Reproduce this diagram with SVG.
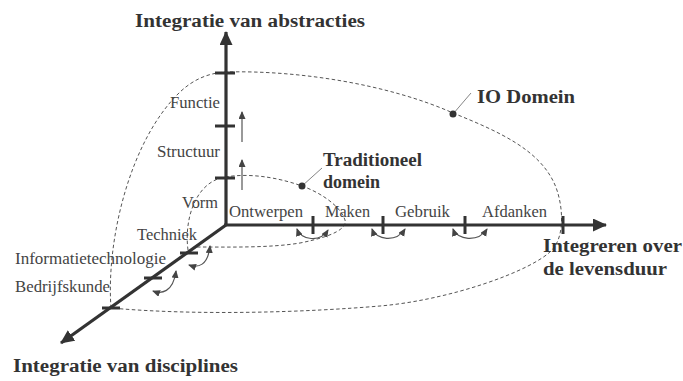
<svg xmlns="http://www.w3.org/2000/svg" width="683" height="381" viewBox="0 0 683 381">
  <style>
    .axis { stroke: #333; stroke-width: 3.2; fill: none; }
    .tick { stroke: #333; stroke-width: 3; }
    .dash { stroke: #555; stroke-width: 1; fill: none; stroke-dasharray: 3.5 2.5; }
    .thin { stroke: #555; stroke-width: 1.2; fill: none; }
    .lead { stroke: #777; stroke-width: 0.9; }
    .lbl { font-family: "Liberation Serif", "Times New Roman", serif; font-size: 16px; fill: #444; }
    .ttl { font-family: "Liberation Serif", "Times New Roman", serif; font-size: 18.5px; font-weight: bold; fill: #333; }
  </style>
  <defs>
    <marker id="axisHead" markerUnits="userSpaceOnUse" markerWidth="15" markerHeight="14" refX="13" refY="6.5" orient="auto">
      <path d="M0,0 L14,6.5 L0,13 z" fill="#333"/>
    </marker>
    <marker id="smallHead" markerUnits="userSpaceOnUse" markerWidth="9" markerHeight="8" refX="7" refY="3.5" orient="auto-start-reverse">
      <path d="M0,0 L8,3.5 L0,7 z" fill="#444"/>
    </marker>
  </defs>
  <rect width="683" height="381" fill="#fff"/>

  <!-- domain outlines -->
  <g id="io-domein-outline">
    <path class="dash" d="M111,308 C106,240 130,140 180,92 C195,78 210,73 226,72 C300,70 390,85 453,113 C500,132 540,150 555,185 C562.5,202.5 566,235 552,250 C532,271 450,300 380,306 C310,312 200,316 111,308"/>
    <line class="lead" x1="453" y1="114" x2="471" y2="93"/>
    <circle cx="453" cy="114" r="3.5" fill="#333"/>
  </g>
  <g id="traditioneel-outline">
    <path class="dash" d="M188,250 C184,220 195,182 225,177 C255,172 285,180 302,186 C319,192 340,205 345,220 C347,228 335,236 300,243 C270,248 230,247 195,247"/>
    <line class="lead" x1="302" y1="186" x2="322" y2="168"/>
    <circle cx="302" cy="186" r="3.5" fill="#333"/>
  </g>

  <!-- axes and scale marks -->
  <g id="connectors">
    <line class="axis" x1="226" y1="226" x2="226" y2="32" marker-end="url(#axisHead)"/>
    <line class="axis" x1="224" y1="225" x2="606" y2="225" marker-end="url(#axisHead)"/>
    <line class="axis" x1="226" y1="225" x2="61" y2="343" marker-end="url(#axisHead)"/>

    <line class="tick" x1="215" y1="73" x2="235" y2="73"/>
    <line class="tick" x1="215" y1="126" x2="235" y2="126"/>
    <line class="tick" x1="215" y1="178" x2="235" y2="178"/>

    <line class="tick" x1="313" y1="216" x2="313" y2="234"/>
    <line class="tick" x1="383" y1="216" x2="383" y2="234"/>
    <line class="tick" x1="465" y1="216" x2="465" y2="234"/>
    <line class="tick" x1="563" y1="216" x2="563" y2="234"/>

    <line class="tick" x1="180" y1="253" x2="198" y2="253"/>
    <line class="tick" x1="144" y1="278" x2="162" y2="278"/>
    <line class="tick" x1="102" y1="308" x2="120" y2="308"/>

    <!-- upward steps along abstraction axis -->
    <line class="thin" x1="242" y1="142" x2="242" y2="112" marker-end="url(#smallHead)"/>
    <line class="thin" x1="242" y1="190" x2="242" y2="160" marker-end="url(#smallHead)"/>

    <!-- transitions between life-cycle phases -->
    <path class="thin" d="M297,229 C301,240 320,243 328,230" marker-start="url(#smallHead)" marker-end="url(#smallHead)"/>
    <path class="thin" d="M372,229 C376,240 396,243 405,229" marker-start="url(#smallHead)" marker-end="url(#smallHead)"/>
    <path class="thin" d="M453,229 C457,240 478,243 487,229" marker-start="url(#smallHead)" marker-end="url(#smallHead)"/>

    <!-- transitions between disciplines -->
    <path class="thin" d="M189,265 C198,268 208,266 210,246" marker-start="url(#smallHead)" marker-end="url(#smallHead)"/>
    <path class="thin" d="M153,291 C161,294 173,293 176,271" marker-start="url(#smallHead)" marker-end="url(#smallHead)"/>
  </g>

  <!-- axis titles -->
  <g id="axis-abstracties"><text class="ttl" x="135" y="27" textLength="230" lengthAdjust="spacingAndGlyphs">Integratie van abstracties</text></g>
  <g id="axis-levensduur">
    <text class="ttl" x="543" y="252" textLength="139" lengthAdjust="spacingAndGlyphs">Integreren over</text>
    <text class="ttl" x="543" y="275" textLength="124" lengthAdjust="spacingAndGlyphs">de levensduur</text>
  </g>
  <g id="axis-disciplines"><text class="ttl" x="13" y="372" textLength="225" lengthAdjust="spacingAndGlyphs">Integratie van disciplines</text></g>

  <!-- domain labels -->
  <g id="io-domein"><text class="ttl" x="477" y="103" textLength="98" lengthAdjust="spacingAndGlyphs">IO Domein</text></g>
  <g id="traditioneel-domein">
    <text class="ttl" x="323" y="166" textLength="99" lengthAdjust="spacingAndGlyphs">Traditioneel</text>
    <text class="ttl" x="323" y="188" textLength="57" lengthAdjust="spacingAndGlyphs">domein</text>
  </g>

  <!-- abstraction levels -->
  <g id="functie"><text class="lbl" x="170" y="108" textLength="50" lengthAdjust="spacingAndGlyphs">Functie</text></g>
  <g id="structuur"><text class="lbl" x="157" y="157" textLength="63" lengthAdjust="spacingAndGlyphs">Structuur</text></g>
  <g id="vorm"><text class="lbl" x="182" y="208" textLength="36" lengthAdjust="spacingAndGlyphs">Vorm</text></g>

  <!-- life-cycle phases -->
  <g id="ontwerpen"><text class="lbl" x="229" y="217" textLength="74" lengthAdjust="spacingAndGlyphs">Ontwerpen</text></g>
  <g id="maken"><text class="lbl" x="325" y="217" textLength="45" lengthAdjust="spacingAndGlyphs">Maken</text></g>
  <g id="gebruik"><text class="lbl" x="395" y="217" textLength="55" lengthAdjust="spacingAndGlyphs">Gebruik</text></g>
  <g id="afdanken"><text class="lbl" x="482" y="217" textLength="65" lengthAdjust="spacingAndGlyphs">Afdanken</text></g>

  <!-- disciplines -->
  <g id="techniek"><text class="lbl" x="137" y="240" textLength="60" lengthAdjust="spacingAndGlyphs">Techniek</text></g>
  <g id="informatietechnologie"><text class="lbl" x="15" y="264" textLength="151" lengthAdjust="spacingAndGlyphs">Informatietechnologie</text></g>
  <g id="bedrijfskunde"><text class="lbl" x="15" y="292" textLength="95" lengthAdjust="spacingAndGlyphs">Bedrijfskunde</text></g>
</svg>
